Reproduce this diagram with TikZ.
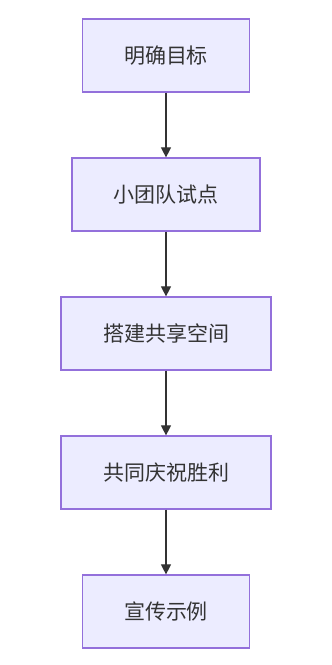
\documentclass[tikz,border=0pt]{standalone}
\usepackage{fontspec}
\newfontfamily\cjk{Noto Sans CJK SC}
\usetikzlibrary{arrows.meta}
\definecolor{nodefill}{HTML}{ECECFF}
\definecolor{nodeborder}{HTML}{9370DB}
\definecolor{ink}{HTML}{333333}
\begin{document}
\begin{tikzpicture}[x=1pt,y=-1pt,
  stepbox/.style={draw=nodeborder,fill=nodefill,line width=1.2pt,minimum height=73pt,inner sep=0pt,font=\cjk\fontsize{21}{25}\selectfont,text=ink},
  flow/.style={draw=ink,line width=1.1pt,-{Triangle[length=10pt,width=10pt]}}]
\useasboundingbox (0,0) rectangle (332,665);
\node[stepbox,minimum width=167pt] (a) at (166,55.5) {明确目标};
\node[stepbox,minimum width=188pt] (b) at (166,194.5) {小团队试点};
\node[stepbox,minimum width=210pt] (c) at (166,333.5) {搭建共享空间};
\node[stepbox,minimum width=210pt] (d) at (166,472.5) {共同庆祝胜利};
\node[stepbox,minimum width=167pt] (e) at (166,611.5) {宣传示例};
\draw[flow] (a) -- (b);
\draw[flow] (b) -- (c);
\draw[flow] (c) -- (d);
\draw[flow] (d) -- (e);
\end{tikzpicture}
\end{document}
